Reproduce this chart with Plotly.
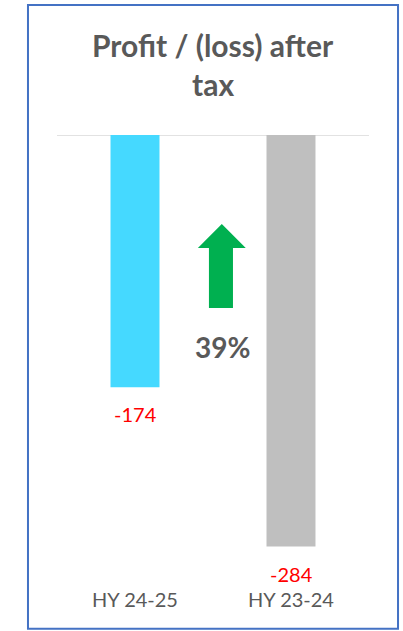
import plotly.graph_objects as go

categories = ["HY 24-25", "HY 23-24"]
values = [-174, -284]
bar_colors = ["#45D9FF", "#BFBFBF"]
value_labels = ["-174", "-284"]
change_label = "39%"
title_lines = ["Profit / (loss) after", "tax"]

FONT = "Lato"
GREY_TXT = "#595959"

fig = go.Figure()
fig.add_trace(go.Bar(
    x=categories, y=values, marker_color=bar_colors, width=0.314,
    marker_line_width=0, hoverinfo="skip",
))

annotations = []
for c, v, t in zip(categories, values, value_labels):
    annotations.append(dict(x=c, y=v, xref="x", yref="y", text=t, showarrow=False,
                            yanchor="middle", yshift=-27,
                            font=dict(family=FONT, size=20, color="#FF0000")))
annotations.append(dict(x=0.564, y=-146.3, xref="x", yref="y", text="<b>%s</b>" % change_label,
                        showarrow=False, yanchor="middle",
                        font=dict(family=FONT, size=28, color=GREY_TXT)))
annotations.append(dict(x=0.5, y=1.2, xref="paper", yref="paper", text="<b>%s</b>" % title_lines[0],
                        showarrow=False, yanchor="middle",
                        font=dict(family=FONT, size=30, color=GREY_TXT)))
annotations.append(dict(x=0.5, y=1.113, xref="paper", yref="paper", text="<b>%s</b>" % title_lines[1],
                        showarrow=False, yanchor="middle",
                        font=dict(family=FONT, size=30, color=GREY_TXT)))

# up arrow (decoration) in axis coordinates
ax_l, ax_r, sh_l, sh_r = 0.403, 0.71, 0.474, 0.628
tip, base, bottom = -61.4, -78.0, -119.4
arrow_path = (f"M {sh_l} {bottom} L {sh_l} {base} L {ax_l} {base} L {(ax_l+ax_r)/2} {tip} "
              f"L {ax_r} {base} L {sh_r} {base} L {sh_r} {bottom} Z")

shapes = [
    dict(type="line", xref="paper", yref="y", x0=0, x1=1, y0=0, y1=0,
         line=dict(color="#D9D9D9", width=1.5), layer="below"),
    dict(type="path", xref="x", yref="y", path=arrow_path,
         fillcolor="#00B050", line=dict(color="#00B050", width=0)),
    dict(type="rect", xref="paper", yref="paper", x0=-0.093, x1=1.093, y0=-0.095, y1=1.288,
         line=dict(color="#4472C4", width=2)),
]

fig.update_layout(
    width=403, height=631,
    margin=dict(l=57, r=34, t=135, b=45),
    paper_bgcolor="white", plot_bgcolor="white",
    showlegend=False,
    annotations=annotations, shapes=shapes,
    xaxis=dict(type="category", range=[-0.5, 1.5], showgrid=False, zeroline=False,
               showline=False, ticks="", tickfont=dict(family=FONT, size=20, color=GREY_TXT)),
    yaxis=dict(range=[-311.2, 0], visible=False, showgrid=False, zeroline=False),
)

fig.write_html(
    "out.html",
    config={"displayModeBar": False},
    post_script="document.body.style.margin='0';document.body.style.overflow='hidden';",
)
